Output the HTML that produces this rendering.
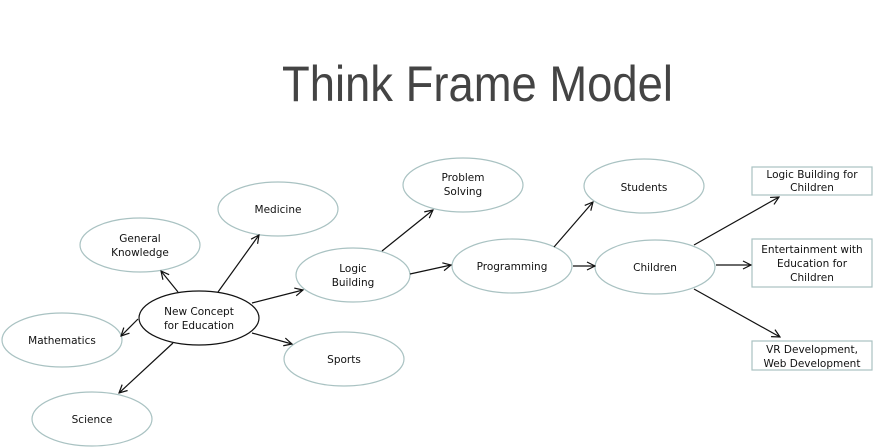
<!DOCTYPE html>
<html><head><meta charset="utf-8"><style>
html,body{margin:0;padding:0;background:#fff;width:875px;height:448px;overflow:hidden}
svg{display:block}
text{font-family:"DejaVu Sans","Liberation Sans",sans-serif;font-size:10.5px;fill:#111}
</style></head><body>
<svg width="875" height="448" viewBox="0 0 875 448" xmlns="http://www.w3.org/2000/svg">
<defs>
<marker id="a" markerWidth="10" markerHeight="10" refX="9" refY="5" orient="auto" markerUnits="userSpaceOnUse">
<path d="M1,1 L9,5 L1,9" fill="none" stroke="#111" stroke-width="1.2"/>
</marker>
</defs>
<text x="282" y="101" textLength="391" lengthAdjust="spacingAndGlyphs" style="font-family:'Liberation Sans',sans-serif;font-size:50px;fill:#444">Think Frame Model</text>
<g fill="#fff" stroke="#a9c2c2" stroke-width="1.2">
<ellipse cx="278" cy="209" rx="60" ry="27"/>
<ellipse cx="140" cy="245" rx="60" ry="27"/>
<ellipse cx="353" cy="275" rx="57" ry="27"/>
<ellipse cx="62" cy="340" rx="60" ry="27"/>
<ellipse cx="344" cy="359" rx="60" ry="27"/>
<ellipse cx="92" cy="419" rx="60" ry="27"/>
<ellipse cx="463" cy="185" rx="60" ry="27"/>
<ellipse cx="644" cy="186" rx="60" ry="27"/>
<ellipse cx="512" cy="266" rx="60" ry="27"/>
<ellipse cx="655" cy="267" rx="60" ry="27"/>
<rect x="752" y="167" width="120" height="28"/>
<rect x="752" y="239" width="120" height="48"/>
<rect x="752" y="341" width="120" height="29"/>
</g>
<ellipse cx="199" cy="318" rx="60" ry="27" fill="#fff" stroke="#111" stroke-width="1.2"/>
<g stroke="#111" stroke-width="1.2" marker-end="url(#a)">
<line x1="178" y1="292" x2="161" y2="271"/>
<line x1="218" y1="292" x2="259" y2="235"/>
<line x1="252" y1="303" x2="303" y2="290"/>
<line x1="138" y1="319" x2="121" y2="336"/>
<line x1="252" y1="333" x2="292" y2="344"/>
<line x1="173" y1="343" x2="119" y2="393"/>
<line x1="382" y1="251" x2="433" y2="210"/>
<line x1="410" y1="274" x2="451" y2="265"/>
<line x1="554" y1="247" x2="593" y2="202"/>
<line x1="573" y1="266" x2="595" y2="266"/>
<line x1="694" y1="245" x2="779" y2="197"/>
<line x1="716" y1="265" x2="751" y2="265"/>
<line x1="694" y1="289" x2="780" y2="337"/>
</g>
<g text-anchor="middle">
<text x="278" y="213">Medicine</text>
<text x="140" y="242">General</text><text x="140" y="256">Knowledge</text>
<text x="353" y="272">Logic</text><text x="353" y="286">Building</text>
<text x="199" y="315">New Concept</text><text x="199" y="329">for Education</text>
<text x="62" y="344">Mathematics</text>
<text x="344" y="363">Sports</text>
<text x="92" y="423">Science</text>
<text x="463" y="181">Problem</text><text x="463" y="195">Solving</text>
<text x="644" y="191">Students</text>
<text x="512" y="270">Programming</text>
<text x="655" y="271">Children</text>
<text x="812" y="178">Logic Building for</text><text x="812" y="191">Children</text>
<text x="812" y="253">Entertainment with</text><text x="812" y="267">Education for</text><text x="812" y="281">Children</text>
<text x="812" y="353">VR Development,</text><text x="812" y="367">Web Development</text>
</g>
</svg>
</body></html>
